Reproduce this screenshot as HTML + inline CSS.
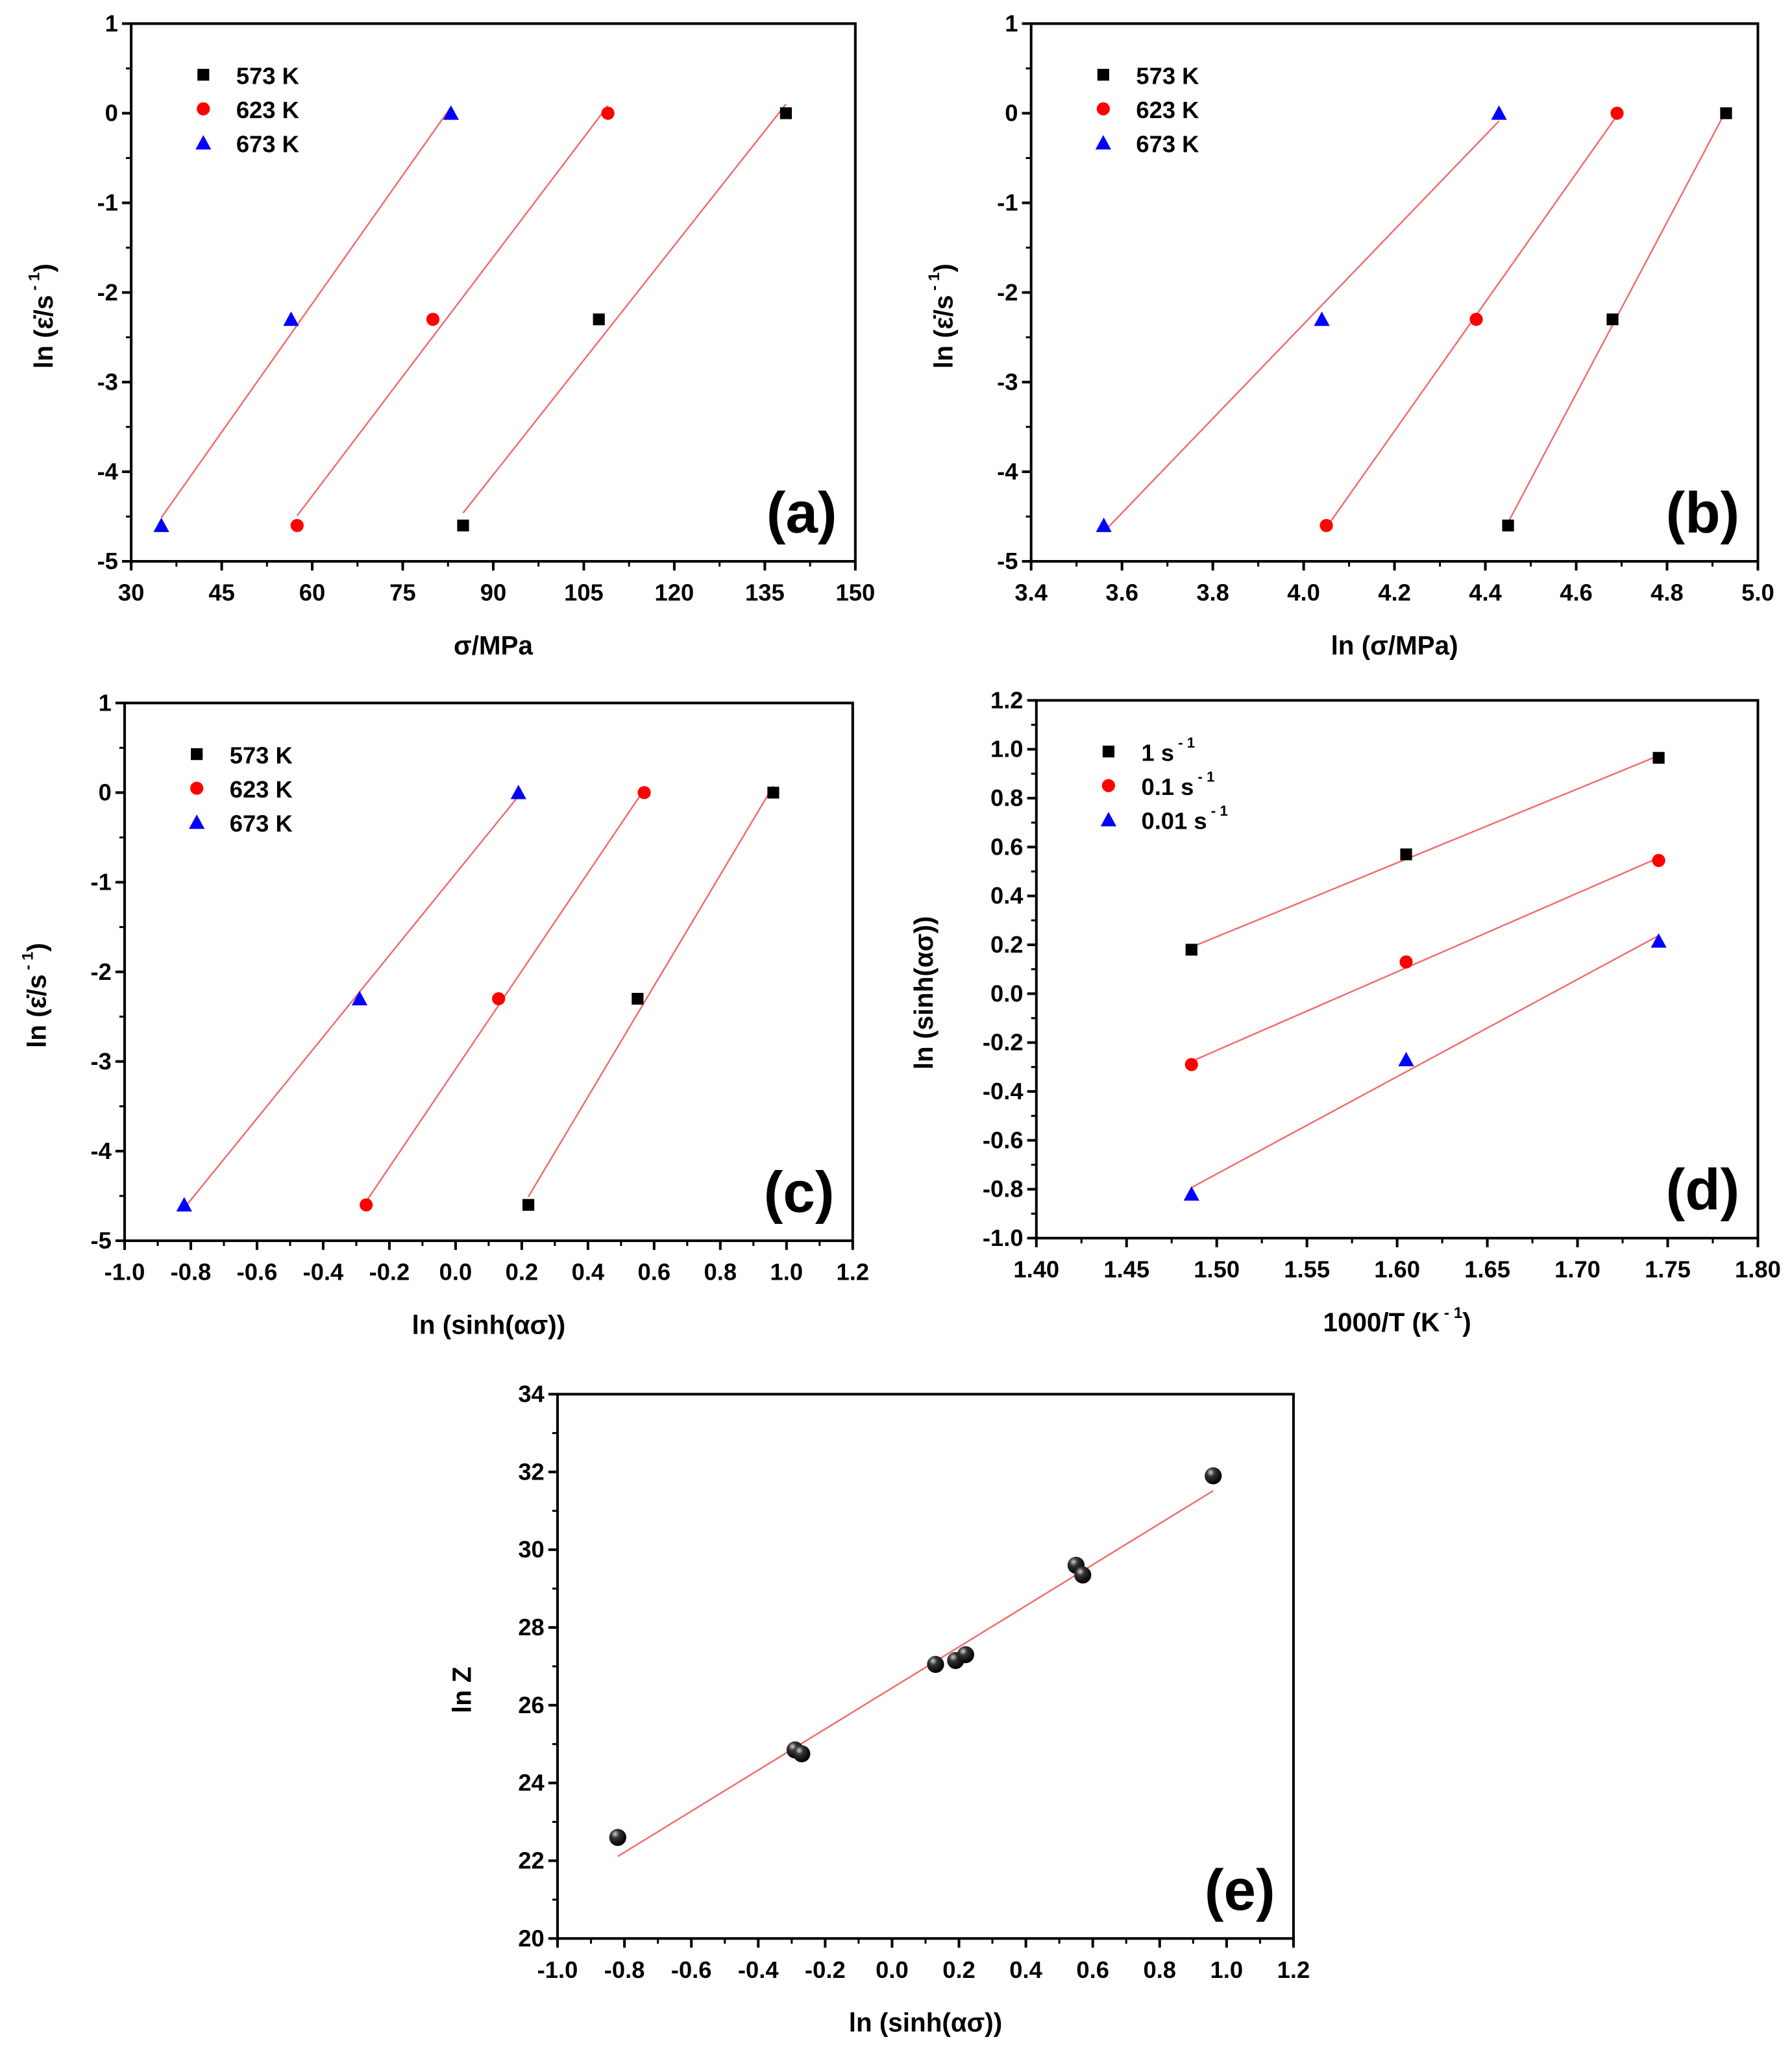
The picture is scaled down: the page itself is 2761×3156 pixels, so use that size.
<!DOCTYPE html>
<html><head><meta charset="utf-8">
<style>
html,body{margin:0;padding:0;background:#fff;}
svg{display:block;font-family:"Liberation Sans",Arial,sans-serif;font-weight:bold;}
</style></head>
<body>
<svg id="fig" width="2761" height="3156" viewBox="0 0 1366 1561.5" preserveAspectRatio="none" xmlns="http://www.w3.org/2000/svg">
<defs>
<radialGradient id="sph" cx="0.35" cy="0.3" r="0.7">
<stop offset="0" stop-color="#cfcfcf"/><stop offset="0.35" stop-color="#333"/><stop offset="1" stop-color="#000"/>
</radialGradient>
</defs>
</svg>
<script>
// ---- Panel (a) data ----
const aSeries = ["573 K","623 K","673 K"];
const aX573 = [85, 107.5, 138.5];
const aX623 = [57.5, 80, 109];
const aX673 = [35, 56.5, 83];
const aY = [-4.6, -2.3, 0];
// ---- Panel (b) data ----
const bX573 = [4.45, 4.68, 4.93];
const bX623 = [4.05, 4.38, 4.69];
const bX673 = [3.56, 4.04, 4.43];
const bY = [-4.6, -2.3, 0];
// ---- Panel (c) data ----
const cX573 = [0.22, 0.55, 0.96];
const cX623 = [-0.27, 0.13, 0.57];
const cX673 = [-0.82, -0.29, 0.19];
const cY = [-4.6, -2.3, 0];
// ---- Panel (d) data ----
const dSeries = ["1 s","0.1 s","0.01 s"];
const dX = [1.486, 1.605, 1.745];
const dY1 = [0.18, 0.57, 0.965];
const dY01 = [-0.29, 0.13, 0.545];
const dY001 = [-0.82, -0.27, 0.215];
// ---- Panel (e) data ----
const eX = [-0.82, -0.29, -0.27, 0.13, 0.19, 0.22, 0.55, 0.57, 0.96];
const eY = [22.6, 24.85, 24.75, 27.05, 27.15, 27.3, 29.6, 29.35, 31.9];
// ---- tick labels ----
const aXTicks = [30,45,60,75,90,105,120,135,150];
const yTicksE = [-5,-4,-3,-2,-1,0,1];
const bXTicks = ["3.4","3.6","3.8","4.0","4.2","4.4","4.6","4.8","5.0"];
const cXTicks = ["-1.0","-0.8","-0.6","-0.4","-0.2","0.0","0.2","0.4","0.6","0.8","1.0","1.2"];
const dXTicks = ["1.40","1.45","1.50","1.55","1.60","1.65","1.70","1.75","1.80"];
const dYTicks = ["-1.0","-0.8","-0.6","-0.4","-0.2","0.0","0.2","0.4","0.6","0.8","1.0","1.2"];
const eYTicks = [20,22,24,26,28,30,32,34];

const NS="http://www.w3.org/2000/svg";
const svg=document.getElementById('fig');
function mk(tag,attrs,parent){const e=document.createElementNS(NS,tag);for(const k in attrs)e.setAttribute(k,attrs[k]);(parent||svg).appendChild(e);return e;}
function fit(xs,ys){const n=xs.length;let sx=0,sy=0,sxx=0,sxy=0;for(let i=0;i<n;i++){sx+=xs[i];sy+=ys[i];sxx+=xs[i]*xs[i];sxy+=xs[i]*ys[i];}const m=(n*sxy-sx*sy)/(n*sxx-sx*sx);return [m,(sy-m*sx)/n];}

function panel(p){
  const g=mk('g',{});
  
  
  const X=v=>p.x0+(v-p.xmin)/(p.xmax-p.xmin)*(p.x1-p.x0);
  const Y=v=>p.y1-(v-p.ymin)/(p.ymax-p.ymin)*(p.y1-p.y0);
  const fr=mk('rect',{x:p.x0,y:p.y0,width:p.x1-p.x0,height:p.y1-p.y0,fill:'none',stroke:'#000','stroke-width':2},g);
  
  
  const xt=mk('g',{},g);
  
  
  const nx=p.xt.length;
  for(let i=0;i<nx;i++){
    const v=p.xmin+i*(p.xmax-p.xmin)/(nx-1);const px=X(v);
    mk('line',{x1:px,x2:px,y1:p.y1,y2:p.y1+7,stroke:'#000','stroke-width':2},xt);
    if(i<nx-1){const pm=X(v+(p.xmax-p.xmin)/(nx-1)/2);mk('line',{x1:pm,x2:pm,y1:p.y1,y2:p.y1+4,stroke:'#000','stroke-width':1.5},xt);}
    const t=mk('text',{x:px,y:p.y1+30,'text-anchor':'middle','font-size':18},xt);t.textContent=p.xt[i];
  }
  const yt=mk('g',{},g);
  
  
  const ny=p.yt.length;
  for(let i=0;i<ny;i++){
    const v=p.ymin+i*(p.ymax-p.ymin)/(ny-1);const py=Y(v);
    mk('line',{x1:p.x0-7,x2:p.x0,y1:py,y2:py,stroke:'#000','stroke-width':2},yt);
    if(i<ny-1){const pm=Y(v+(p.ymax-p.ymin)/(ny-1)/2);mk('line',{x1:p.x0-4,x2:p.x0,y1:pm,y2:pm,stroke:'#000','stroke-width':1.5},yt);}
    const t=mk('text',{x:p.x0-10,y:py+6,'text-anchor':'end','font-size':18},yt);t.textContent=p.yt[i];
  }
  const xl=mk('text',{x:(p.x0+p.x1)/2,y:p.y1+71,'text-anchor':'middle','font-size':20},g);
  
  
  xl.innerHTML=p.xlab;
  const yl=mk('text',{x:0,y:0,'text-anchor':'middle','font-size':20,transform:`translate(${p.ylx},${(p.y0+p.y1)/2+(p.yoff||0)}) rotate(-90)`},g);
  
  
  yl.innerHTML=p.ylab;
  const lt=mk('text',{x:p.x1-14,y:p.y1-22,'text-anchor':'end','font-size':44},g);
  
  
  lt.textContent='('+p.id+')';
  p.series.forEach((s,si)=>{
    const sg=mk('g',{},g);
    
    
    const [m,b]=fit(s.x,s.y);
    const mnx=Math.min(...s.x),mxx=Math.max(...s.x);
    const fl=mk('line',{x1:X(mnx),y1:Y(m*mnx+b),x2:X(mxx),y2:Y(m*mxx+b),stroke:'#f26a6a','stroke-width':1.2},sg);
    
    
    for(let i=0;i<s.x.length;i++){
      const mkr=marker(s.shape,X(s.x[i]),Y(s.y[i]),sg);
      
      
    }
    if(p.legend){
      const ly=p.y0+39+si*26;
      const lm=marker(s.shape,p.x0+55,ly,sg);
      
      
      const tx=mk('text',{x:p.x0+80,y:ly+7,'font-size':18},sg);
      
      
      tx.innerHTML=s.name+(s.sup?'<tspan font-size="11" dy="-10"> - 1</tspan>':'');
    }
  });
}
function marker(shape,x,y,parent){
  if(shape==='sq')return mk('rect',{x:x-4.5,y:y-4.5,width:9,height:9,fill:'#000'},parent);
  if(shape==='ci')return mk('circle',{cx:x,cy:y,r:5,fill:'#f00'},parent);
  if(shape==='tr')return mk('polygon',{points:`${x},${y-6} ${x+6},${y+5} ${x-6},${y+5}`,fill:'#00f'},parent);
  return mk('circle',{cx:x,cy:y,r:6.5,fill:'url(#sph)'},parent);
}
const yEps='ln (ε̇/s<tspan font-size="12" dy="-10"> - 1</tspan><tspan dy="10">)</tspan>';
panel({id:'a',x0:100,x1:652,y0:18,y1:428,xmin:30,xmax:150,ymin:-5,ymax:1,xt:aXTicks,yt:yTicksE,xlab:'σ/MPa',ylab:yEps,ylx:40,yoff:18,legend:true,
 series:[{name:aSeries[0],shape:'sq',x:aX573,y:aY},{name:aSeries[1],shape:'ci',x:aX623,y:aY},{name:aSeries[2],shape:'tr',x:aX673,y:aY}]});
panel({id:'b',x0:786,x1:1340,y0:18,y1:428,xmin:3.4,xmax:5.0,ymin:-5,ymax:1,xt:bXTicks,yt:bXTicks.length?yTicksE:yTicksE,xlab:'ln (σ/MPa)',ylab:yEps,ylx:726,yoff:18,legend:true,
 series:[{name:aSeries[0],shape:'sq',x:bX573,y:bY},{name:aSeries[1],shape:'ci',x:bX623,y:bY},{name:aSeries[2],shape:'tr',x:bX673,y:bY}]});
panel({id:'c',x0:95,x1:650,y0:536,y1:946,xmin:-1.0,xmax:1.2,ymin:-5,ymax:1,xt:cXTicks,yt:yTicksE,xlab:'ln (sinh(ασ))',ylab:yEps,ylx:35,yoff:18,legend:true,
 series:[{name:aSeries[0],shape:'sq',x:cX573,y:cY},{name:aSeries[1],shape:'ci',x:cX623,y:cY},{name:aSeries[2],shape:'tr',x:cX673,y:cY}]});
panel({id:'d',x0:790,x1:1340,y0:534,y1:944,xmin:1.40,xmax:1.80,ymin:-1.0,ymax:1.2,xt:dXTicks,yt:dYTicks,xlab:'1000/T (K<tspan font-size="12" dy="-10"> - 1</tspan><tspan dy="10">)</tspan>',ylab:'ln (sinh(ασ))',ylx:711,yoff:18,legend:true,
 series:[{name:dSeries[0],shape:'sq',sup:true,x:dX,y:dY1},{name:dSeries[1],shape:'ci',sup:true,x:dX,y:dY01},{name:dSeries[2],shape:'tr',sup:true,x:dX,y:dY001}]});
panel({id:'e',x0:425,x1:986,y0:1063,y1:1478,xmin:-1.0,xmax:1.2,ymin:20,ymax:34,xt:cXTicks,yt:eYTicks,xlab:'ln (sinh(ασ))',ylab:'ln Z',ylx:359,yoff:18,legend:false,
 series:[{name:'lnZ',shape:'sp',x:eX,y:eY}]});
</script>
</body></html>
